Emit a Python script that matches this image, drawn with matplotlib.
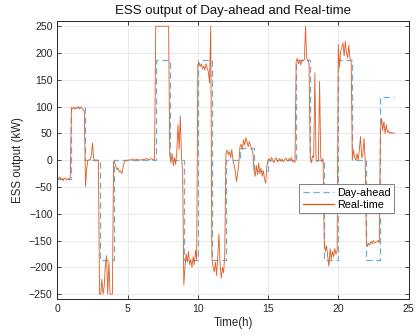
import numpy as np
import matplotlib.pyplot as plt

plt.rcParams['font.family'] = ['Liberation Sans', 'DejaVu Sans']

# day-ahead schedule, one value per hour (kW)
dayAhead = [-35, 100, 0, -187, 0, 0, 0, 187, 0, -187, 187, -187,
            0, 22, -21, 0, 0, 187, 0, -187, 187, 0, -187, 118]

# real-time output, 5-minute samples (12 per hour)
realTime = [
    -33, -35, -31, -36, -34, -38, -33, -35, -37, -34, -36, -33,          # 0h
    98, 96, 99, 95, 98, 97, 100, 96, 99, 97, 95, 92,                     # 1h
    -49, -15, 0, 1, 0, 10, 32, 3, 0, 0, 0, 0,                            # 2h
    -250, -250, -222, -250, -235, -196, -178, -250, -190, -250, -250, -250,  # 3h
    -2, -5, -12, -18, -15, -22, -20, -25, -15, -5, -2, 0,                # 4h
    0, 0, 1, 0, 2, 1, 0, 1, 2, 0, 1, 0,                                  # 5h
    1, 2, 1, 2, 3, 2, 1, 2, 3, 2, 1, 2,                                  # 6h
    250, 250, 250, 250, 250, 250, 250, 250, 250, 250, 250, 250,          # 7h
    10, -5, 12, -10, 5, -8, 15, 66, 20, 82, 5, -20,                      # 8h
    -233, -200, -175, -190, -170, -195, -185, -200, -180, -195, -168, -185,  # 9h
    178, 182, 175, 180, 170, 176, 168, 180, 172, 165, 144, 250,          # 10h
    -183, -200, -208, -190, -215, -180, -138, -195, -220, -200, -210, -175,  # 11h
    13, 19, 10, 16, 5, 20, 0, -9, -20, -40, -25, -5,                     # 12h
    25, 30, 20, 38, 28, 42, 35, 25, 35, 28, 20, 15,                      # 13h
    -20, -30, -10, -27, -5, -25, -15, -30, -20, -35, -43, -10,           # 14h
    0, 3, -2, 5, 0, -5, 2, 4, -3, 0, 3, -2,                              # 15h
    2, -3, 0, 4, 1, -2, 3, 0, 5, -3, 0, -4,                              # 16h
    184, 190, 180, 186, 178, 188, 185, 188, 250, 190, 188, 180,          # 17h
    5, -5, 8, 5, 163, 0, -3, 0, 147, 5, -3, 3,                           # 18h
    -152, -170, -160, -180, -198, -165, -185, -170, -180, -165, -175, -170,  # 19h
    216, 174, 203, 210, 219, 195, 222, 200, 191, 215, 190, 186,          # 20h
    2, 19, 5, 0, 12, 0, 20, 44, 5, 10, 41, 0,                            # 21h
    -152, -161, -155, -158, -152, -156, -150, -155, -153, -152, -150, -154,  # 22h
    54, 78, 55, 72, 50, 66, 52, 55, 50, 52, 50, 51,                      # 23h
    51,
]

hours = np.arange(len(dayAhead) + 1)
daStep = dayAhead + [dayAhead[-1]]
tRT = np.arange(len(realTime)) / 12.0

fig = plt.figure(figsize=(4.16, 3.35), dpi=100)
ax = fig.add_axes([0.138, 0.1075, 0.844, 0.8285])

ax.plot(hours, daStep, drawstyle='steps-post', ls=(0, (5, 3)), color='#6AAEE0',
        lw=0.9, label='Day-ahead')
ax.plot(tRT, realTime, color='#E0642E', lw=0.65, label='Real-time')

ax.set_xlim(0, 25)
ax.set_ylim(-259, 259)
ax.set_xticks(range(0, 26, 5))
ax.set_yticks(range(-250, 251, 50))
ax.grid(True, color='#E6E6E6', lw=0.6)
ax.set_axisbelow(True)
ax.tick_params(direction='in', top=True, right=True, labelsize=7.6,
               colors='#262626', length=3, width=0.6)
for s in ax.spines.values():
    s.set_linewidth(0.7)
    s.set_color('#262626')

ax.set_title('ESS output of Day-ahead and Real-time', fontsize=9.5, color='#111111', pad=5)
ax.set_xlabel('Time(h)', fontsize=8.3, color='#262626', labelpad=2)
ax.set_ylabel('ESS output (kW)', fontsize=8.3, color='#262626', labelpad=3.5)

leg = ax.legend(loc='upper right', bbox_to_anchor=(0.959, 0.413), fontsize=7.8,
                fancybox=False, framealpha=1, edgecolor='#808080',
                borderpad=0.3, handlelength=2.9, handletextpad=0.3,
                labelspacing=0.2, borderaxespad=0)
leg.get_frame().set_linewidth(0.7)
leg.get_lines()[1].set_color('#D95319')
leg.get_lines()[1].set_linewidth(0.9)

fig.savefig('out.png', dpi=100)
